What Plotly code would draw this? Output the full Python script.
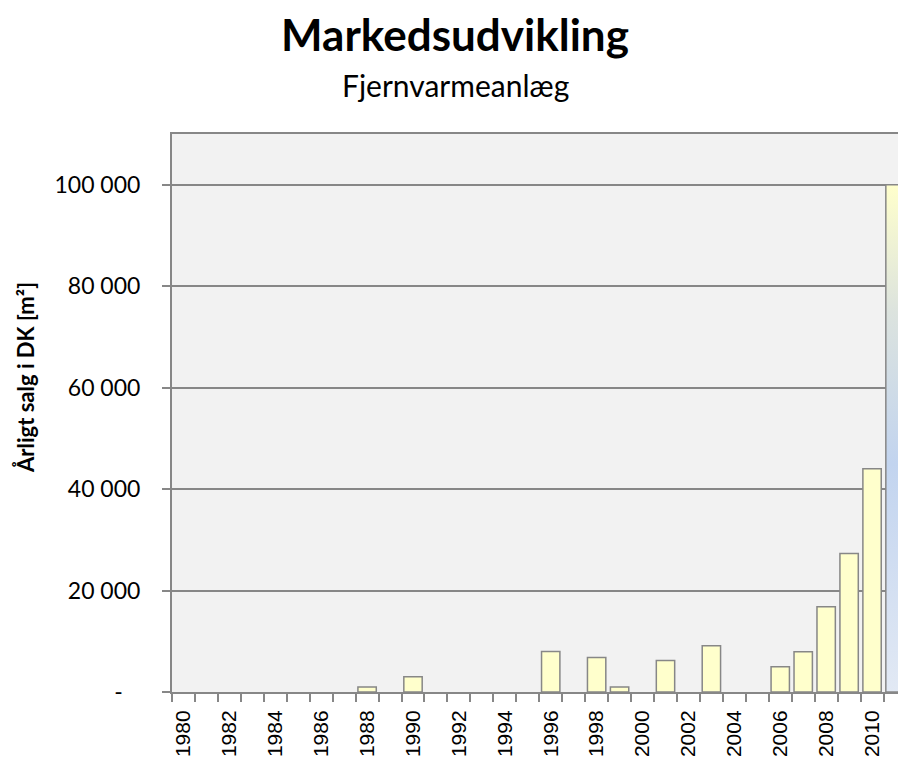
import plotly.graph_objects as go

# Årligt salg (m²) pr. år – fjernvarmeanlæg (None = intet salg vist)
years = list(range(1980, 2011))
sales = [None, None, None, None, None, None, None, None, 1000, None,
         3000, None, None, None, None, None, 8000, None, 6800, 1000,
         None, 6200, None, 9100, None, None, 5000, 7950, 16800, 27300,
         44000]

# forventet år (gradientsøjle, skåret af i højre kant)
extra_year = 2011
extra_value = 100000

y_ticks = [0, 20000, 40000, 60000, 80000, 100000]
y_ticktext = ["-\u00a0\u00a0\u00a0", "20 000", "40 000", "60 000", "80 000", "100 000"]
x_ticks = list(range(1980, 2011, 2))

GRAY = "#878787"
BAR_W = 0.8

fig = go.Figure()

fig.add_trace(go.Bar(
    x=years,
    y=sales,
    width=BAR_W,
    marker=dict(color="#FFFFCC", line=dict(color=GRAY, width=1.5)),
    showlegend=False,
))

# gradient-søjle bygget fra data (år ± halv søjlebredde)
x0 = extra_year - BAR_W / 2
x1 = extra_year + BAR_W / 2
fig.add_trace(go.Scatter(
    x=[x0, x0, x1, x1, x0],
    y=[0, extra_value, extra_value, 0, 0],
    mode="lines",
    fill="toself",
    fillgradient=dict(
        type="vertical",
        start=0,
        stop=extra_value,
        colorscale=[[0, "#E2E9F4"], [0.45, "#C2D4EF"], [0.75, "#DCE3DE"], [1, "#FFFFCC"]],
    ),
    line=dict(color=GRAY, width=1.5),
    showlegend=False,
    hoverinfo="skip",
))

fig.update_layout(
    width=898,
    height=763,
    margin=dict(l=172, r=0, t=134, b=71, autoexpand=False),
    paper_bgcolor="white",
    plot_bgcolor="#F2F2F2",
    font=dict(family="Lato", color="black"),
    title=dict(
        text="<b>Markedsudvikling</b>",
        x=455 / 898,
        xanchor="center",
        y=1 - 36 / 763,
        yanchor="middle",
        font=dict(family="Lato", size=44, color="black"),
    ),
)

fig.add_annotation(
    text="Fjernvarmeanlæg",
    xref="paper", yref="paper",
    x=(455 - 172) / 726, y=1 + (134 - 85) / 558,
    xanchor="center", yanchor="middle",
    showarrow=False,
    font=dict(family="Lato", size=30, color="black"),
)

fig.add_annotation(
    text="<b>Årligt salg i DK [m²]</b>",
    xref="paper", yref="paper",
    x=-(172 - 25) / 726, y=(692 - 378) / 558,
    xanchor="center", yanchor="middle",
    textangle=-90,
    showarrow=False,
    font=dict(family="Lato", size=22, color="black"),
)

fig.update_yaxes(
    range=[0, 110000],
    tickvals=y_ticks,
    ticktext=y_ticktext,
    tickfont=dict(family="Lato", size=23, color="black"),
    showgrid=True,
    gridcolor=GRAY,
    gridwidth=1.5,
    zeroline=False,
    showline=True,
    linecolor=GRAY,
    linewidth=2,
    ticks="outside",
    ticklen=8,
    tickcolor=GRAY,
    tickwidth=1.5,
    ticklabelstandoff=17,
    automargin=False,
)

fig.update_xaxes(
    range=[1979.5, 2011.13],
    tickvals=x_ticks,
    ticktext=[str(y) for y in x_ticks],
    tickangle=-90,
    tickfont=dict(family="Liberation Sans", size=21, color="black"),
    ticks="",
    showgrid=False,
    zeroline=False,
    showline=True,
    mirror=True,
    linecolor=GRAY,
    linewidth=2,
    minor=dict(tick0=1979.5, dtick=1, ticks="outside", ticklen=8,
               tickcolor=GRAY, tickwidth=1.5, showgrid=False),
    ticklabelstandoff=8,
    automargin=False,
)

# siden uden standard-margin, så figuren flugter med vinduet
fig.write_html(
    "out.html",
    config={"displayModeBar": False},
    post_script="document.body.style.margin='0';",
)
